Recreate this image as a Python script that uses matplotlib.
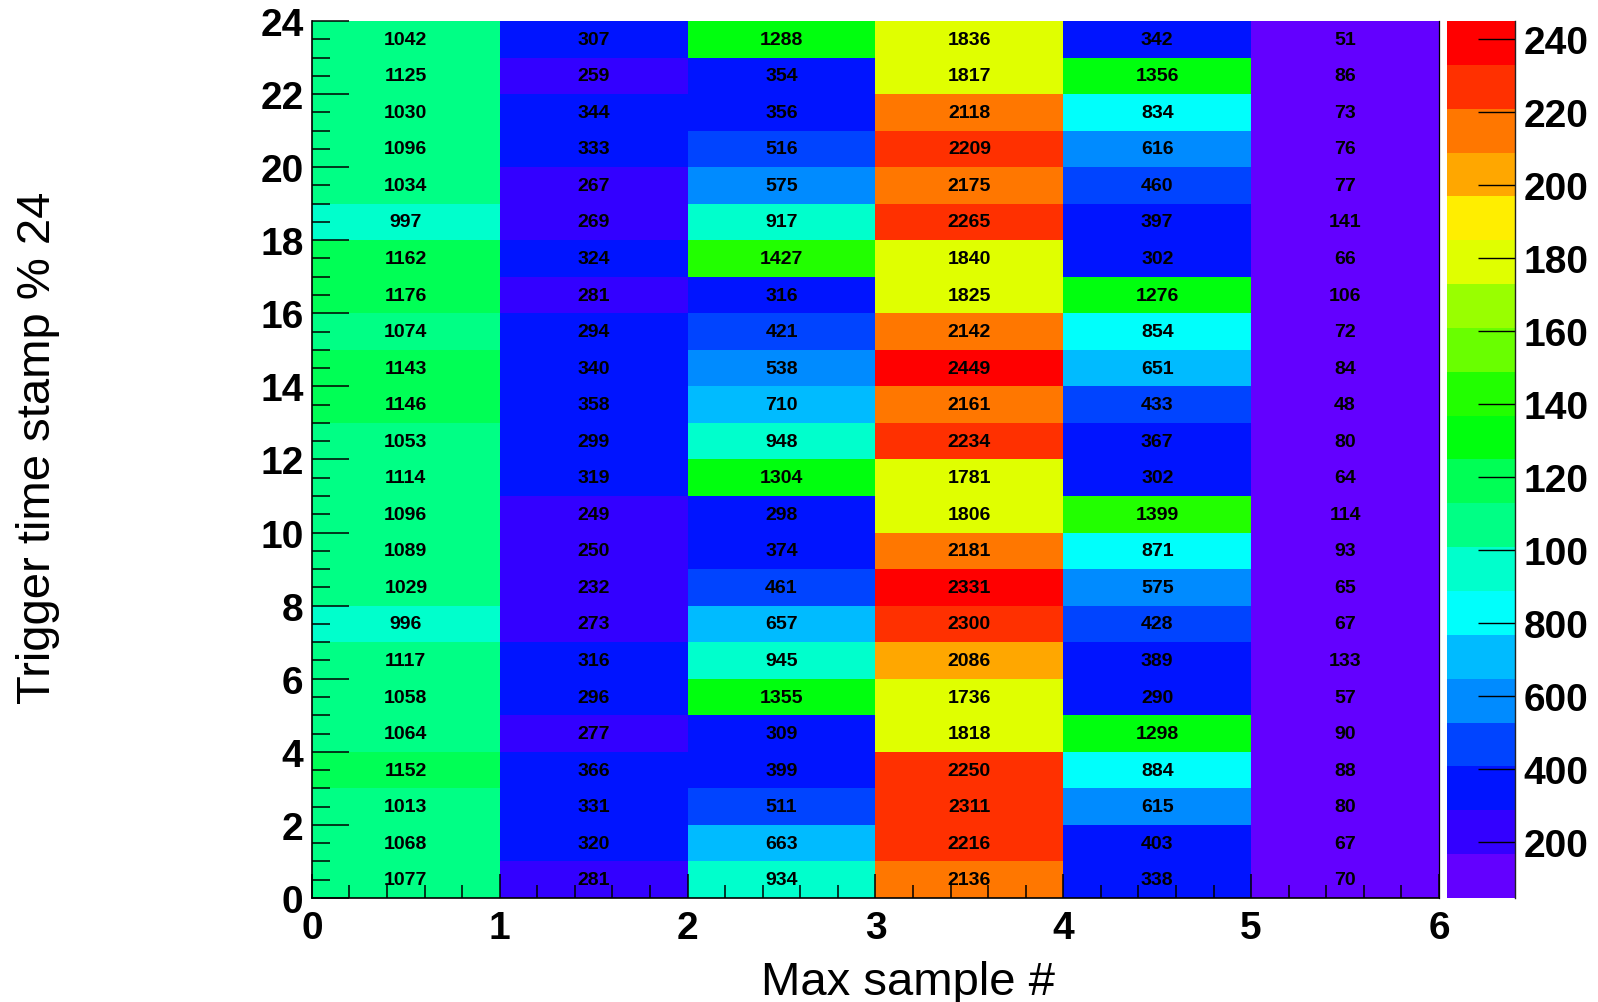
import colorsys
import numpy as np
import matplotlib
matplotlib.use('Agg')
import matplotlib.pyplot as plt
from matplotlib.colors import ListedColormap, BoundaryNorm
from matplotlib.ticker import MultipleLocator

# entries per (max sample bin, trigger time stamp % 24), time stamp 0..23
max_sample_0 = [1077, 1068, 1013, 1152, 1064, 1058, 1117, 996, 1029, 1089, 1096, 1114,
                1053, 1146, 1143, 1074, 1176, 1162, 997, 1034, 1096, 1030, 1125, 1042]
max_sample_1 = [281, 320, 331, 366, 277, 296, 316, 273, 232, 250, 249, 319,
                299, 358, 340, 294, 281, 324, 269, 267, 333, 344, 259, 307]
max_sample_2 = [934, 663, 511, 399, 309, 1355, 945, 657, 461, 374, 298, 1304,
                948, 710, 538, 421, 316, 1427, 917, 575, 516, 356, 354, 1288]
max_sample_3 = [2136, 2216, 2311, 2250, 1818, 1736, 2086, 2300, 2331, 2181, 1806, 1781,
                2234, 2161, 2449, 2142, 1825, 1840, 2265, 2175, 2209, 2118, 1817, 1836]
max_sample_4 = [338, 403, 615, 884, 1298, 290, 389, 428, 575, 871, 1399, 302,
                367, 433, 651, 854, 1276, 302, 397, 460, 616, 834, 1356, 342]
max_sample_5 = [70, 67, 80, 88, 90, 57, 133, 67, 65, 93, 114, 64,
                80, 48, 84, 72, 106, 66, 141, 77, 76, 73, 86, 51]

x_edges = np.arange(0, 7)
y_edges = np.arange(0, 25)

# z axis ticks, labels clipped to three characters like the ROOT palette axis
z_ticks = [200, 400, 600, 800, 1000, 1200, 1400, 1600, 1800, 2000, 2200, 2400]
z_labels = ['200', '400', '600', '800', '100', '120', '140', '160', '180', '200', '220', '240']

counts = np.array([max_sample_0, max_sample_1, max_sample_2,
                   max_sample_3, max_sample_4, max_sample_5]).T

# old ROOT "pretty" palette (SetPalette(1)), 20 contours
n_cont = 20
pretty = []
for i in range(50):
    hue = 280. - (i + 1) * 280. / 50
    pretty.append(colorsys.hls_to_rgb(hue / 360., 0.5, 1.0))
colors = [pretty[int((c + 0.99) * 50 / n_cont)] for c in range(n_cont)]
cmap = ListedColormap(colors)
levels = np.linspace(counts.min(), counts.max(), n_cont + 1)
norm = BoundaryNorm(levels, n_cont)

plt.rcParams['font.family'] = 'Liberation Sans'

fig = plt.figure(figsize=(15.98, 10.03), dpi=100, facecolor='white')
ax = fig.add_axes([0.1952, 0.1037, 0.7053, 0.8744])
cax = fig.add_axes([0.9055, 0.1037, 0.0426, 0.8744])

mesh = ax.pcolormesh(x_edges, y_edges, counts, cmap=cmap, norm=norm)

for j in range(counts.shape[0]):
    for i in range(counts.shape[1]):
        ax.text(i + 0.5, j + 0.5, str(counts[j, i]), ha='center', va='center',
                fontsize=14, fontweight='bold', color='black')

ax.set_xlim(0, 6)
ax.set_ylim(0, 24)
ax.xaxis.set_major_locator(MultipleLocator(1))
ax.xaxis.set_minor_locator(MultipleLocator(0.2))
ax.yaxis.set_major_locator(MultipleLocator(2))
ax.yaxis.set_minor_locator(MultipleLocator(0.5))
ax.tick_params(axis='x', which='major', direction='in', length=17, width=1.1,
               labelsize=28, pad=9)
ax.tick_params(axis='x', which='minor', direction='in', length=9.5, width=1.1)
ax.tick_params(axis='y', which='major', direction='in', length=26.5, width=1.1,
               labelsize=28, pad=6)
ax.tick_params(axis='y', which='minor', direction='in', length=13, width=1.1)
for lab in ax.get_xticklabels() + ax.get_yticklabels():
    lab.set_fontweight('bold')
ax.spines['top'].set_visible(False)
ax.spines['left'].set_linewidth(1.2)
ax.spines['bottom'].set_linewidth(1.2)
ax.spines['right'].set_linewidth(0.9)

cb = fig.colorbar(mesh, cax=cax, ticks=z_ticks)
cb.outline.set_visible(False)
cax.minorticks_off()
cax.set_yticklabels(z_labels)
cax.tick_params(axis='y', which='major', direction='in', length=26.5, width=1.0,
                labelsize=28, pad=6, right=True, left=False)
for lab in cax.get_yticklabels():
    lab.set_fontweight('bold')
cax.plot([1, 1], [0, 1], color='#222222', lw=1.0, transform=cax.transAxes, clip_on=False)

fig.text(0.5682, 0.008, 'Max sample #', fontsize=34, ha='center', va='baseline')
fig.text(0.0235, 0.5533, 'Trigger time stamp % 24', fontsize=34, rotation=90,
         ha='center', va='center')

plt.savefig('out.png', dpi=100, facecolor='white')
